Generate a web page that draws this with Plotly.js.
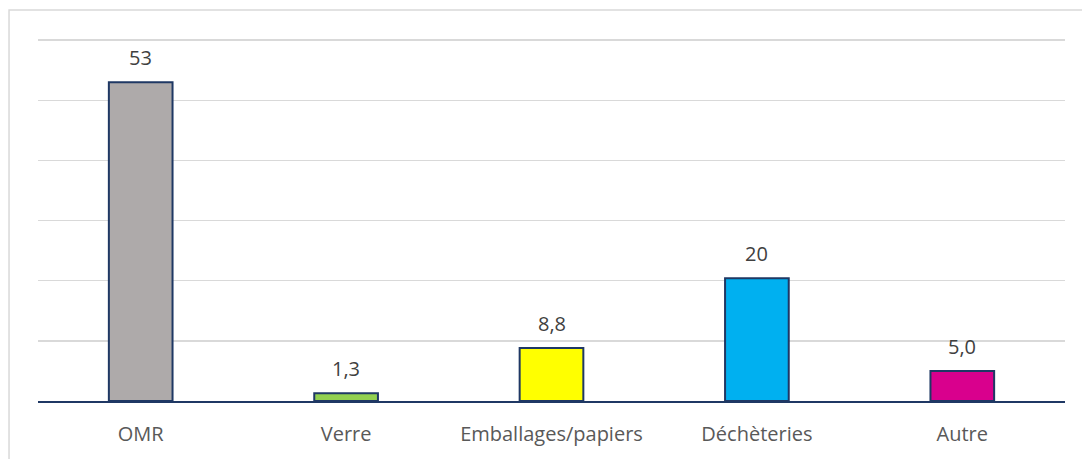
<!DOCTYPE html>
<html>
<head>
<meta charset="utf-8">
<script src="https://cdn.plot.ly/plotly-3.0.1.min.js"></script>
<style>html,body{margin:0;padding:0;background:#fff;}#chart{width:1082px;height:459px;}</style>
</head>
<body>
<div id="chart"></div>
<script>
const categories = ["OMR", "Verre", "Emballages/papiers", "Déchèteries", "Autre"];
const values = [53, 1.3, 8.8, 20.4, 5.0];
const labels = ["53", "1,3", "8,8", "20", "5,0"];
const colors = ["#AEAAAA", "#92D050", "#FFFF00", "#00B0F0", "#D9008D"];

const FONT = "'Open Sans', 'Noto Sans', sans-serif";

const trace = {
  type: "bar",
  x: categories,
  y: values,
  marker: {color: colors, line: {color: "#1F3864", width: 2}},
  hoverinfo: "none"
};

const annotations = categories.map((c, i) => ({
  x: c, y: values[i], xref: "x", yref: "y",
  text: labels[i], showarrow: false, yanchor: "bottom", yshift: 9,
  font: {family: FONT, size: 20, color: "#404040"}
}));

const layout = {
  width: 1082, height: 459,
  margin: {l: 38, r: 17, t: 38, b: 58},
  paper_bgcolor: "#ffffff", plot_bgcolor: "#ffffff",
  showlegend: false,
  bargap: 0.69,
  xaxis: {
    showline: true, linecolor: "#1F3864", linewidth: 2,
    ticks: "", showgrid: false,
    tickfont: {family: FONT, size: 20, color: "#595959"},
    ticklabelstandoff: 14
  },
  yaxis: {
    range: [0, 60.35], tick0: 0, dtick: 10, showticklabels: false,
    gridcolor: "#D9D9D9", gridwidth: 1.5, zeroline: false, showline: false
  },
  annotations: annotations,
  shapes: [{
    type: "rect", xref: "paper", yref: "paper",
    x0: -0.0282, x1: 1.1, y0: -0.3, y1: 1.077,
    line: {color: "#D9D9D9", width: 1.5}, fillcolor: "rgba(0,0,0,0)", layer: "below"
  }]
};

Plotly.newPlot("chart", [trace], layout, {staticPlot: true});
</script>
</body>
</html>
